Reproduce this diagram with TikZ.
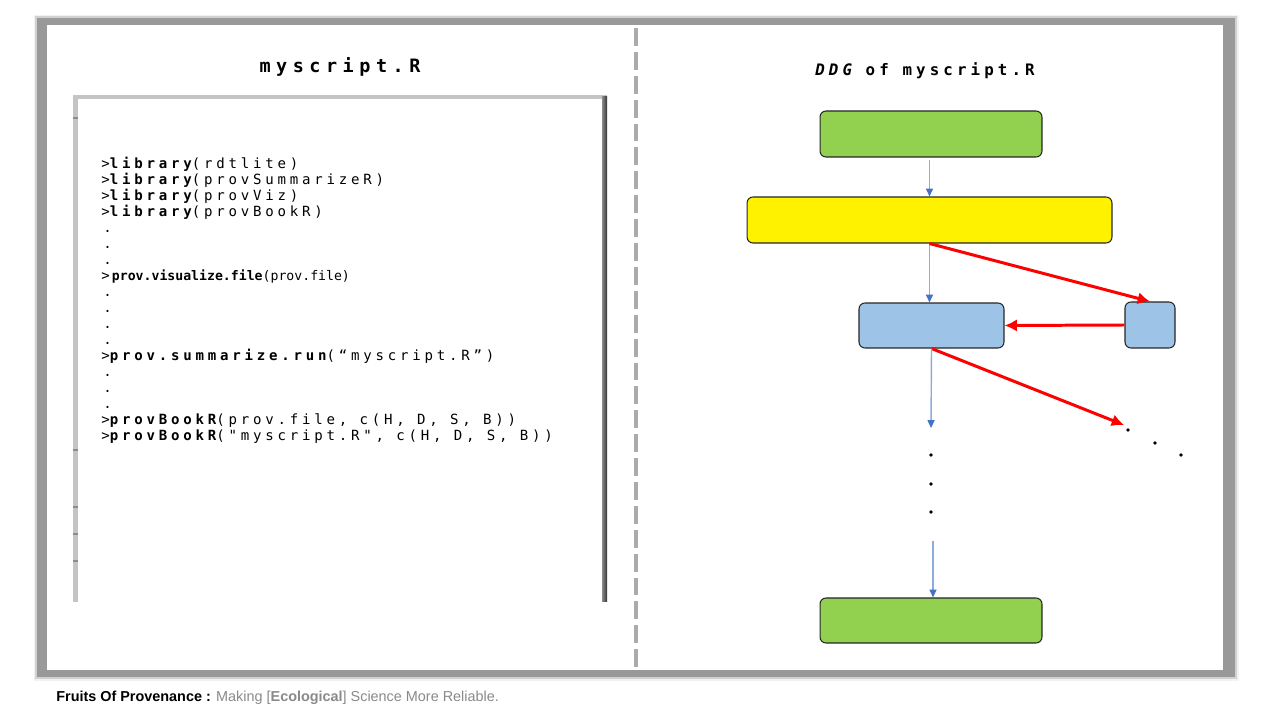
\documentclass[tikz,border=0pt]{standalone}
\usepackage{fontspec}
\usepackage{tikz}
\usetikzlibrary{arrows.meta}
\newfontfamily\codefont[LetterSpace=27,Ligatures=TeXOff]{DejaVu Sans Mono}
\newfontfamily\monofont{DejaVu Sans Mono}
\newfontfamily\headfont[LetterSpace=30]{DejaVu Sans Mono}
\newfontfamily\ddgfont[LetterSpace=26]{DejaVu Sans Mono}
\newfontfamily\footfont{Liberation Sans}
\definecolor{ddggreen}{HTML}{92D050}
\definecolor{ddgblue}{HTML}{9DC3E6}
\definecolor{flowline}{HTML}{8FAADC}
\definecolor{flowtip}{HTML}{4472C4}
\definecolor{footgray}{HTML}{8A8A8A}
\definecolor{panelgray}{HTML}{C4C4C4}
\tikzset{
	ddgbox/.style={draw=black!85, line width=0.6pt, rounded corners=3.4pt, inner sep=0pt, minimum height=0.92cm},
	flow/.style={draw=flowline, line width=0.8pt, -{Triangle[length=4.5pt,width=4pt,color=flowtip]}},
	prov/.style={draw=red, line width=1.7pt, -{Latex[length=7pt,width=7pt]}},
	codeline/.style={anchor=base west, inner sep=0pt, font=\codefont\fontsize{8pt}{9pt}\selectfont},
}

\begin{document}
\begin{tikzpicture}[x=0.02cm,y=-0.02cm]
			\useasboundingbox (0,0) rectangle (1265,712);
			\fill[white] (0,0) rectangle (1265,712);
			\fill[black!5] (34,15) rectangle (1239,681);
			\fill[black!18] (35,16) rectangle (1237,679);
			\fill[black!40] (37,18) rectangle (1235,677);
			\fill[white] (47,25) rectangle (1223,670);
			\draw[black!33, line width=2.8pt, dash pattern=on 10.2pt off 3.4pt] (636,28) -- (636,668);

			\node[anchor=base, inner sep=0pt, font=\headfont\bfseries\fontsize{10.5pt}{12pt}\selectfont] (scripttitle) at (340,73) {myscript.R};
			\node[anchor=base, inner sep=0pt, font=\ddgfont\bfseries\fontsize{9pt}{10pt}\selectfont] (ddgtitle) at (925,76) {{\itshape DDG} of myscript.R};

			\fill[panelgray] (73,95) rectangle (607,99);
			\fill[panelgray] (73,95) rectangle (78,602);
			\shade[left color=black!45, right color=black!80] (602,97) rectangle (607,602);
			\foreach \y in {118,450,507,534,561}
				\draw[black!45, line width=0.6pt] (73,\y) -- (78,\y);

			\foreach \n/\cmd/\arg in {1/library/(rdtlite), 2/library/(provSummarizeR), 3/library/(provViz), 4/library/(provBookR), 13/prov.summarize.run/(“myscript.R”), 17/provBookR/{(prov.file, c(H, D, S, B))}, 18/provBookR/{("myscript.R", c(H, D, S, B))}}
				\node[codeline] (code\n) at (101,{169+15.95*(\n-1)}) {>{\bfseries\cmd}\arg};
			\foreach \n in {5,6,7,9,10,11,12,14,15,16}
				\node[codeline] (dot\n) at (103,{169+15.95*(\n-1)}) {.};
			\node[codeline] (code8) at (101,280.65) {>\hspace{1.2pt}\monofont\fontsize{7.5pt}{9pt}\selectfont\bfseries prov.visualize.file\mdseries(prov.file)};

			\node[ddgbox, fill=ddggreen, minimum width=4.44cm] (start) at (931,134) {};
			\node[ddgbox, fill=yellow, minimum width=7.3cm] (script) at (929.5,220) {};
			\node[ddgbox, fill=ddgblue, minimum width=2.9cm, minimum height=0.9cm] (op) at (931.5,325.5) {};
			\node[ddgbox, fill=ddgblue, minimum width=1cm] (data) at (1150,325) {};
			\node[ddgbox, fill=ddggreen, minimum width=4.44cm, minimum height=0.9cm] (finish) at (931,620.5) {};
			\coordinate (more) at (1124,425);
			\coordinate (down) at (931,428);
			\coordinate (resume) at (933,541);

			\draw[flow] ([yshift=-1.5pt]script.north |- start.south) -- (script.north);
			\draw[flow] (script.south) -- (script.south |- op.north);
			\draw[prov] (script.south) -- (data.north);
			\draw[prov] (data.west) -- (op.east);
			\draw[prov] (op.south) -- (more);
			\draw[flow] (op.south) -- (down);
			\draw[flow] (resume) -- (resume |- finish.north);
			\foreach \x/\y in {1128/430,1155/443,1181/455,931/455,931/484,931/512}
				\fill (\x,\y) circle (1.1pt);

			\node[anchor=base west, inner sep=0pt, font=\footfont\fontsize{8.2pt}{9pt}\selectfont] (footer) at (56,702) {\textbf{Fruits Of Provenance :} \color{footgray}Making [\textbf{Ecological}] Science More Reliable.};
		\end{tikzpicture}
\end{document}
